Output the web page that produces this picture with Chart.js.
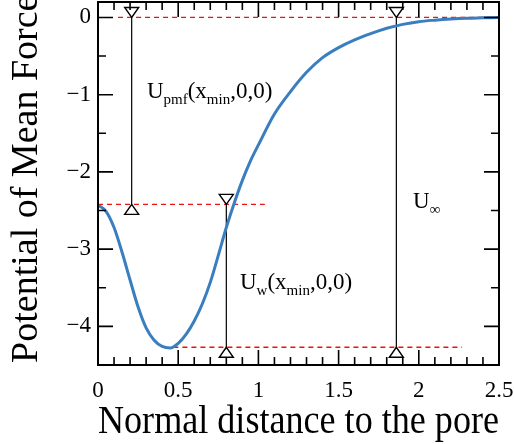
<!DOCTYPE html>
<html>
<head>
<meta charset="utf-8">
<title>Potential of Mean Force</title>
<script src="https://cdn.jsdelivr.net/npm/chart.js@4.4.0/dist/chart.umd.min.js"></script>
<style>
    html, body { margin: 0; padding: 0; background: #fff; }
    #pmfChart { display: block; }
</style>
</head>
<body>
<canvas id="pmfChart" width="514" height="444"></canvas>
<script>
    'use strict'

    // ---------------------------------------------------------------------------
    // DATA
    // ---------------------------------------------------------------------------

    const distance = [0, 0.05, 0.1, 0.15, 0.2, 0.25, 0.3, 0.35, 0.4, 0.45, 0.5, 0.55, 0.6, 0.65, 0.7, 0.75,
        0.8, 0.85, 0.9, 0.95, 1.0, 1.1, 1.2, 1.3, 1.4, 1.5, 1.6, 1.7, 1.8, 1.9, 2.0, 2.1, 2.2, 2.3, 2.4, 2.5]
    const pmf = [-2.43, -2.51, -2.72, -3.04, -3.40, -3.75, -4.02, -4.18, -4.26, -4.28, -4.22, -4.10, -3.93, -3.71, -3.43, -3.08,
        -2.72, -2.40, -2.11, -1.86, -1.65, -1.25, -0.96, -0.71, -0.52, -0.39, -0.29, -0.21, -0.14, -0.09, -0.055, -0.035, -0.02, -0.01, -0.005, 0]

    const xTickValues = [0, 0.5, 1, 1.5, 2, 2.5]
    const xTickLabels = ['0', '0.5', '1', '1.5', '2', '2.5']
    const yTickValues = [-4, -3, -2, -1, 0]
    const yTickLabels = ['\u22124', '\u22123', '\u22122', '\u22121', '0']

    // red dashed reference levels
    const levelValues = [0, -2.42, -4.27]
    const levelStarts = [0.125, 0, 0.47]
    const levelEnds = [2.5, 1.04, 2.27]

    // vertical arrows between levels
    const arrowX = [0.21, 0.80, 1.86]
    const arrowTop = [0, -2.42, 0]
    const arrowBottom = [-2.42, -4.27, -4.27]

    // annotation texts: [text, isSubscript] pieces, anchored in data units
    const noteX = [0.305, 0.885, 1.964]
    const noteY = [-1.04, -3.52, -2.47]
    const noteParts = [
        [['U', false], ['pmf', true], ['(x', false], ['min', true], [',0,0)', false]],
        [['U', false], ['w', true], ['(x', false], ['min', true], [',0,0)', false]],
        [['U', false], ['\u221e', true]],
    ]

    // ---------------------------------------------------------------------------
    // STYLE
    // ---------------------------------------------------------------------------

    const SERIF = "'Liberation Serif', 'Times New Roman', serif"
    const CURVE_COLOR = '#3a7ec0'
    const LEVEL_COLOR = '#ee1111'

    Chart.defaults.font.family = SERIF
    Chart.defaults.color = '#000'

    // ---------------------------------------------------------------------------
    // PLUGINS
    // ---------------------------------------------------------------------------

    function drawTriangle(ctx, px, py, down) {
        const half = 7
        const h = 10
        const base = down ? py - h : py + h
        ctx.beginPath()
        ctx.moveTo(px, py)
        ctx.lineTo(px - half, base)
        ctx.lineTo(px + half, base)
        ctx.closePath()
        ctx.fillStyle = '#fff'
        ctx.fill()
        ctx.stroke()
    }

    const arrowHeads = {
        id: 'arrowHeads',
        afterDatasetsDraw(chart) {
            const { ctx, scales: { x, y } } = chart
            ctx.save()
            ctx.strokeStyle = '#000'
            ctx.lineWidth = 1.4
            arrowX.forEach((v, i) => {
                const px = x.getPixelForValue(v)
                drawTriangle(ctx, px, y.getPixelForValue(arrowTop[i]), true)
                drawTriangle(ctx, px, y.getPixelForValue(arrowBottom[i]), false)
            })
            ctx.restore()
        },
    }

    const notes = {
        id: 'notes',
        afterDatasetsDraw(chart) {
            const { ctx, scales: { x, y } } = chart
            ctx.save()
            ctx.fillStyle = '#000'
            ctx.textBaseline = 'alphabetic'
            ctx.textAlign = 'left'
            noteParts.forEach((parts, i) => {
                let px = x.getPixelForValue(noteX[i])
                const py = y.getPixelForValue(noteY[i])
                for (const [text, sub] of parts) {
                    ctx.font = (sub ? '15px ' : '23px ') + SERIF
                    ctx.fillText(text, px, sub ? py + 6 : py)
                    px += ctx.measureText(text).width
                }
            })
            ctx.restore()
        },
    }

    const frameTicks = {
        id: 'frameTicks',
        afterDraw(chart) {
            const { ctx, chartArea: a, scales: { x, y } } = chart
            ctx.save()
            ctx.strokeStyle = '#000'
            ctx.lineWidth = 2
            ctx.strokeRect(a.left, a.top, a.right - a.left, a.bottom - a.top)
            ctx.lineWidth = 1.6
            ctx.beginPath()
            for (let k = 0; k <= 25; k++) {
                const px = x.getPixelForValue(k / 10)
                const len = k % 5 === 0 ? 15 : 8
                ctx.moveTo(px, a.bottom)
                ctx.lineTo(px, a.bottom - len)
                ctx.moveTo(px, a.top)
                ctx.lineTo(px, a.top + len)
            }
            for (let k = 0; k <= 8; k++) {
                const py = y.getPixelForValue(-k / 2)
                const len = k % 2 === 0 ? 15 : 8
                ctx.moveTo(a.left, py)
                ctx.lineTo(a.left + len, py)
                ctx.moveTo(a.right, py)
                ctx.lineTo(a.right - len, py)
            }
            ctx.stroke()
            ctx.restore()
        },
    }

    // ---------------------------------------------------------------------------
    // DATASETS
    // ---------------------------------------------------------------------------

    const datasets = [{
        data: distance.map((d, i) => ({ x: d, y: pmf[i] })),
        borderColor: CURVE_COLOR,
        borderWidth: 3,
        pointRadius: 0,
        cubicInterpolationMode: 'monotone',
        fill: false,
    }]

    arrowX.forEach((v, i) => {
        datasets.push({
            data: [{ x: v, y: arrowTop[i] }, { x: v, y: arrowBottom[i] }],
            borderColor: '#000',
            borderWidth: 1.2,
            pointRadius: 0,
            fill: false,
        })
    })

    levelValues.forEach((v, i) => {
        datasets.push({
            data: [{ x: levelStarts[i], y: v }, { x: levelEnds[i], y: v }],
            borderColor: LEVEL_COLOR,
            borderWidth: 1.3,
            borderDash: [5, 4],
            pointRadius: 0,
            fill: false,
        })
    })

    // ---------------------------------------------------------------------------
    // CHART
    // ---------------------------------------------------------------------------

    // label overflow padding would shrink the plot box, so the box is pinned
    function pinX(s) {
        s.height = 79
        s.paddingLeft = 0
        s.paddingRight = 0
    }

    function pinY(s) {
        s.width = 98
        s.paddingTop = 0
        s.paddingBottom = 0
    }

    new Chart(document.getElementById('pmfChart'), {
        type: 'line',
        data: { datasets },
        options: {
            responsive: false,
            animation: false,
            devicePixelRatio: 1,
            layout: { padding: { top: 2, right: 15, bottom: 0, left: 0 } },
            plugins: { legend: { display: false }, tooltip: { enabled: false } },
            scales: {
                x: {
                    type: 'linear',
                    min: 0,
                    max: 2.5,
                    afterBuildTicks: s => { s.ticks = xTickValues.map(v => ({ value: v })) },
                    afterFit: pinX,
                    grid: { display: false, drawTicks: false },
                    border: { display: false },
                    ticks: {
                        autoSkip: false,
                        maxRotation: 0,
                        padding: 12,
                        color: '#000',
                        font: { family: SERIF, size: 23 },
                        callback: v => xTickLabels[xTickValues.indexOf(v)],
                    },
                    title: {
                        display: true,
                        text: 'Normal distance to the pore',
                        color: '#000',
                        font: { family: SERIF, size: 39, lineHeight: 1 },
                        padding: { top: 0, bottom: 2 },
                    },
                },
                y: {
                    type: 'linear',
                    min: -4.5,
                    max: 0.2,
                    afterBuildTicks: s => { s.ticks = yTickValues.map(v => ({ value: v })) },
                    afterFit: pinY,
                    grid: { display: false, drawTicks: false },
                    border: { display: false },
                    ticks: {
                        autoSkip: false,
                        padding: 7,
                        color: '#000',
                        font: { family: SERIF, size: 23 },
                        callback: v => yTickLabels[yTickValues.indexOf(v)],
                    },
                    title: {
                        display: true,
                        text: ' Potential of Mean Force',
                        color: '#000',
                        font: { family: SERIF, size: 38, lineHeight: 1 },
                        padding: { top: 8, bottom: 0 },
                    },
                },
            },
        },
        plugins: [arrowHeads, notes, frameTicks],
    })
</script>
</body>
</html>
